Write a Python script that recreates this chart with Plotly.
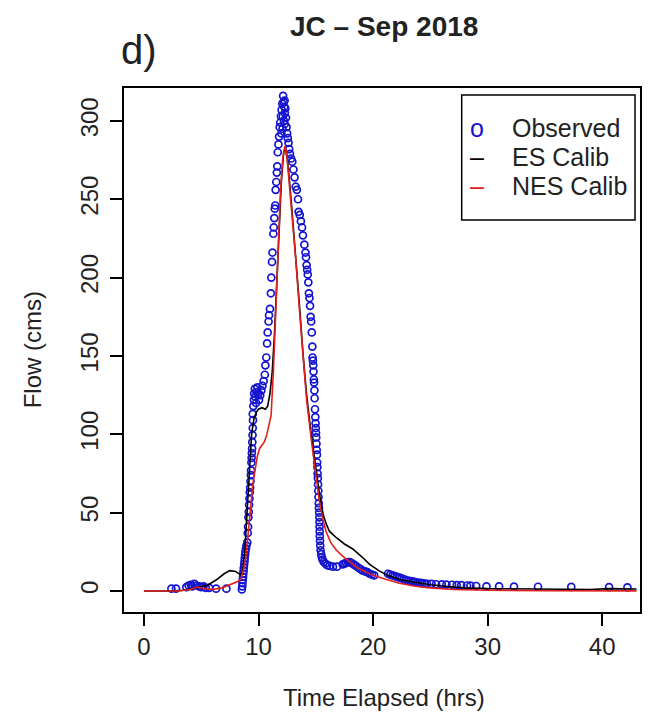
import plotly.graph_objects as go

# ---------------- data ----------------
obs_t = [2.4, 2.8, 3.7, 3.9, 4.1, 4.2, 4.4, 4.6, 4.8, 5.0, 5.2, 5.4, 5.7, 6.3, 7.2,
         8.55, 8.58, 8.6, 8.62, 8.65, 8.67, 8.7, 8.72, 8.75, 8.78, 8.8, 8.83, 8.86, 8.9, 8.95,
         9.02, 9.06, 9.09, 9.12, 9.15, 9.18, 9.21, 9.24, 9.27, 9.3, 9.33, 9.35, 9.38, 9.4, 9.42,
         9.44, 9.46, 9.48, 9.5, 9.52,
         9.5, 9.55, 9.6, 9.62, 9.68, 9.72, 9.78, 9.85, 9.9, 9.98, 10.05, 10.15, 10.25, 10.35, 10.45,
         10.55, 10.6, 10.68, 10.75, 10.8, 10.88, 10.92, 11.0, 11.08, 11.12, 11.18, 11.22, 11.3,
         11.33, 11.38, 11.42, 11.46, 11.5, 11.55, 11.6, 11.64, 11.68, 11.74, 11.8, 11.85, 11.9,
         11.96, 12.02, 12.08, 12.15,
         12.2, 12.25, 12.3, 12.34, 12.4, 12.22, 12.1, 12.3, 12.45, 12.5, 12.56, 12.0, 12.62, 12.68,
         12.12, 12.28,
         12.75, 12.85, 12.95, 13.05, 13.15, 13.25, 13.35, 13.45, 13.5, 13.6, 13.7, 13.8, 13.88,
         14.0, 14.1, 14.15, 14.2, 14.25, 14.3, 14.35, 14.4, 14.45, 14.5, 14.55, 14.6, 14.65, 14.7,
         14.72, 14.75, 14.78, 14.8, 14.83, 14.85, 14.88, 14.9, 14.93, 14.96, 14.98, 15.0, 15.02,
         15.04, 15.06, 15.08, 15.1, 15.12, 15.14, 15.16, 15.18, 15.2, 15.22, 15.24, 15.26, 15.28,
         15.3, 15.31, 15.32, 15.33, 15.34, 15.35, 15.37, 15.39, 15.42, 15.47, 15.53, 15.6, 15.7,
         15.85, 16.0, 16.2, 16.5, 16.85,
         17.35, 17.5, 17.65, 17.8, 17.95, 18.1, 18.3, 18.5, 18.7, 18.9, 19.1, 19.3, 19.5, 19.7,
         19.9, 20.1,
         21.3, 21.5, 21.7, 21.9, 22.1, 22.3, 22.5, 22.7, 22.9, 23.1, 23.3, 23.5, 23.7, 23.9, 24.1,
         24.3, 24.5, 24.7, 25.1, 25.5, 26.0, 26.4, 26.9, 27.3, 27.7, 28.2, 28.5, 29.0, 29.9, 31.0,
         32.3, 34.4, 37.3, 40.6, 42.2]
obs_q = [1.5, 1.5, 2.5, 3.5, 4, 3, 4.5, 3.5, 3, 2.5, 3, 2, 2, 1.5, 1.5,
         1, 3, 5, 7, 9, 11, 13, 15, 17, 19, 21, 23, 25, 27, 29,
         31, 37, 41, 47, 50.5, 55, 59, 63, 66, 70, 74, 77, 82, 85, 88,
         91, 95, 99.5, 104, 109,
         113, 118, 122, 126, 129, 124, 120, 127, 130, 126, 122, 125, 128, 131, 134,
         138, 144, 149, 158, 165, 172, 176, 180, 190, 200, 210, 216, 228,
         232, 238, 244, 246, 256, 261, 267, 271, 280, 285, 290, 296, 299,
         303, 307, 311, 316,
         312, 309, 305, 308, 302, 300, 295, 298, 296, 292, 289, 292, 286, 282,
         303, 313,
         279, 276, 274, 269, 264, 258, 256, 250, 242, 240, 236, 232, 227,
         221, 216, 213, 208, 205, 202, 197, 190, 187, 182, 175, 172, 165, 156,
         149, 147, 144, 140, 135, 133, 128, 123, 116, 111, 107, 104, 101,
         98, 94, 90, 87, 82, 79, 75, 72, 68, 64, 60, 56, 53,
         50, 47, 44, 41, 38, 35, 32, 29, 26, 23.5, 21.5, 20, 18.5,
         17.5, 16.5, 16, 15.5, 15.5,
         17, 17.5, 18, 18.5, 18.5, 18, 17, 16, 15, 14, 13, 12.5, 12, 11,
         10.5, 10,
         11, 10.5, 10, 9.5, 9, 8.5, 8, 7.5, 7, 6.5, 6.3, 6, 5.7, 5.4, 5.2,
         5, 4.8, 4.6, 4.5, 4.3, 4.2, 4.1, 4, 3.8, 3.7, 3.5, 3.4, 3.2, 3, 3,
         2.8, 2.7, 2.6, 2.5, 2.3]

es_t = [0, 2.5, 3.5, 4.5, 5.5, 6.3, 7.0, 7.5, 8.0, 8.4, 8.6, 8.8, 9.0, 9.2, 9.4, 9.6, 9.8,
        10.0, 10.3, 10.6, 10.8, 11.0, 11.2, 11.4, 11.6, 11.8, 12.0, 12.2, 12.35, 12.5, 12.6,
        12.9, 13.25, 13.6, 13.9, 14.2, 14.6, 15.0, 15.3, 15.6, 15.9, 16.2, 16.8, 17.5, 18.2,
        19.0, 19.7, 20.5, 21.4, 22.5, 23.7, 25.0, 26.6, 28.0, 30.0, 33.0, 36.0, 39.0, 40.5, 43.0]
es_q = [0, 0, 0.5, 2, 3.5, 7, 11, 13, 12.5, 10.5, 12, 25, 50, 80, 100, 110, 114,
        116, 117, 116, 118, 126, 140, 165, 200, 235, 262, 280, 283, 276, 270,
        245, 215, 180, 150, 125, 100, 77, 63, 50, 43, 38, 34, 30, 27,
        22, 17, 13, 9.5, 7, 5.5, 4, 2.8, 2, 1.5, 1.2, 1, 1, 1.5, 1.3]

nes_t = [0, 3, 4, 4.7, 5.2, 6, 6.8, 7.5, 8.2, 8.5, 8.7, 8.9, 9.1, 9.3, 9.5, 9.7, 9.9, 10.1,
         10.3, 10.5, 10.7, 10.9, 11.1, 11.3, 11.5, 11.7, 11.9, 12.1, 12.3, 12.45, 12.6, 12.9,
         13.25, 13.6, 13.9, 14.2, 14.6, 15.0, 15.3, 15.6, 15.9, 16.3, 16.8, 17.4, 18.0, 18.6,
         19.4, 20.2, 21.1, 22.3, 23.7, 25.0, 27.0, 30.0, 35.0, 43.0]
nes_q = [0, 0, 1, 2.5, 1.5, 1, 2, 4, 6, 8, 14, 22, 35, 52, 68, 78, 86, 91,
         93, 95, 99, 105, 112, 140, 180, 220, 252, 275, 284, 280, 268, 243,
         212, 177, 148, 122, 97, 74, 58, 46, 38, 31, 26, 22, 18.5, 15,
         12, 9.5, 7.5, 5, 3, 2, 1, 0.5, 0.2, 0.1]

x_ticks = [0, 10, 20, 30, 40]
y_ticks = [0, 50, 100, 150, 200, 250, 300]

# ---------------- figure ----------------
FONT = "Liberation Sans, Arial, Helvetica, sans-serif"
fig = go.Figure()

fig.add_trace(go.Scatter(x=obs_t, y=obs_q, mode="markers", name="Observed",
                         marker=dict(symbol="circle-open", size=7, color="#1414d0",
                                     line=dict(width=1.7, color="#1414d0"))))
fig.add_trace(go.Scatter(x=es_t, y=es_q, mode="lines", name="ES Calib",
                         line=dict(color="black", width=1.6)))
fig.add_trace(go.Scatter(x=nes_t, y=nes_q, mode="lines", name="NES Calib",
                         line=dict(color="#e0201c", width=1.6)))

axis_common = dict(showgrid=False, zeroline=False, showline=True, mirror=True,
                   linecolor="black", linewidth=1.5, ticks="outside", ticklen=12,
                   tickwidth=1.5, tickcolor="black",
                   tickfont=dict(family=FONT, size=24, color="#222"))

fig.update_layout(
    width=650, height=721,
    margin=dict(l=124, r=8, t=88, b=109),
    paper_bgcolor="white", plot_bgcolor="white",
    showlegend=False,
    xaxis=dict(range=[-1.74, 43.3], tickvals=x_ticks, ticklabelstandoff=0, **axis_common),
    yaxis=dict(range=[-13.4, 321], tickvals=y_ticks, tickangle=-90, ticklabelstandoff=3,
               **axis_common),
)

anns = [
    dict(text="<b>JC – Sep 2018</b>", x=0.504, y=1.118, size=28),
    dict(text="d)", x=0.029, y=1.0725, size=40),
    dict(text="Time Elapsed (hrs)", x=0.504, y=(612 - 697) / 524, size=24),
    dict(text="Flow (cms)", x=(32 - 124) / 518, y=(612 - 350) / 524, size=24, angle=-90),
]
for a in anns:
    fig.add_annotation(text=a["text"], x=a["x"], y=a["y"], xref="paper", yref="paper",
                       showarrow=False, xanchor="center", yanchor="middle",
                       textangle=a.get("angle", 0),
                       font=dict(family=FONT, size=a["size"], color="#222"))

# legend box (R style)
fig.add_shape(type="rect", xref="paper", yref="paper",
              x0=(463 - 124) / 518, x1=(637 - 124) / 518,
              y0=(612 - 220) / 524, y1=(612 - 95) / 524,
              line=dict(color="black", width=1.5), fillcolor="white", layer="above")
leg_items = [("o", "#1414d0", "Observed", 128), ("–", "black", "ES Calib", 157),
             ("–", "#e0201c", "NES Calib", 186)]
for sym, col, lab, py in leg_items:
    yp = (612 - py) / 524
    fig.add_annotation(text=sym, x=(478 - 124) / 518, y=yp, xref="paper", yref="paper",
                       showarrow=False, xanchor="center", yanchor="middle",
                       font=dict(family=FONT, size=25, color=col))
    fig.add_annotation(text=lab, x=(511 - 124) / 518, y=yp, xref="paper", yref="paper",
                       showarrow=False, xanchor="left", yanchor="middle",
                       font=dict(family=FONT, size=25, color="#222"))

fig.write_html("out.html")
